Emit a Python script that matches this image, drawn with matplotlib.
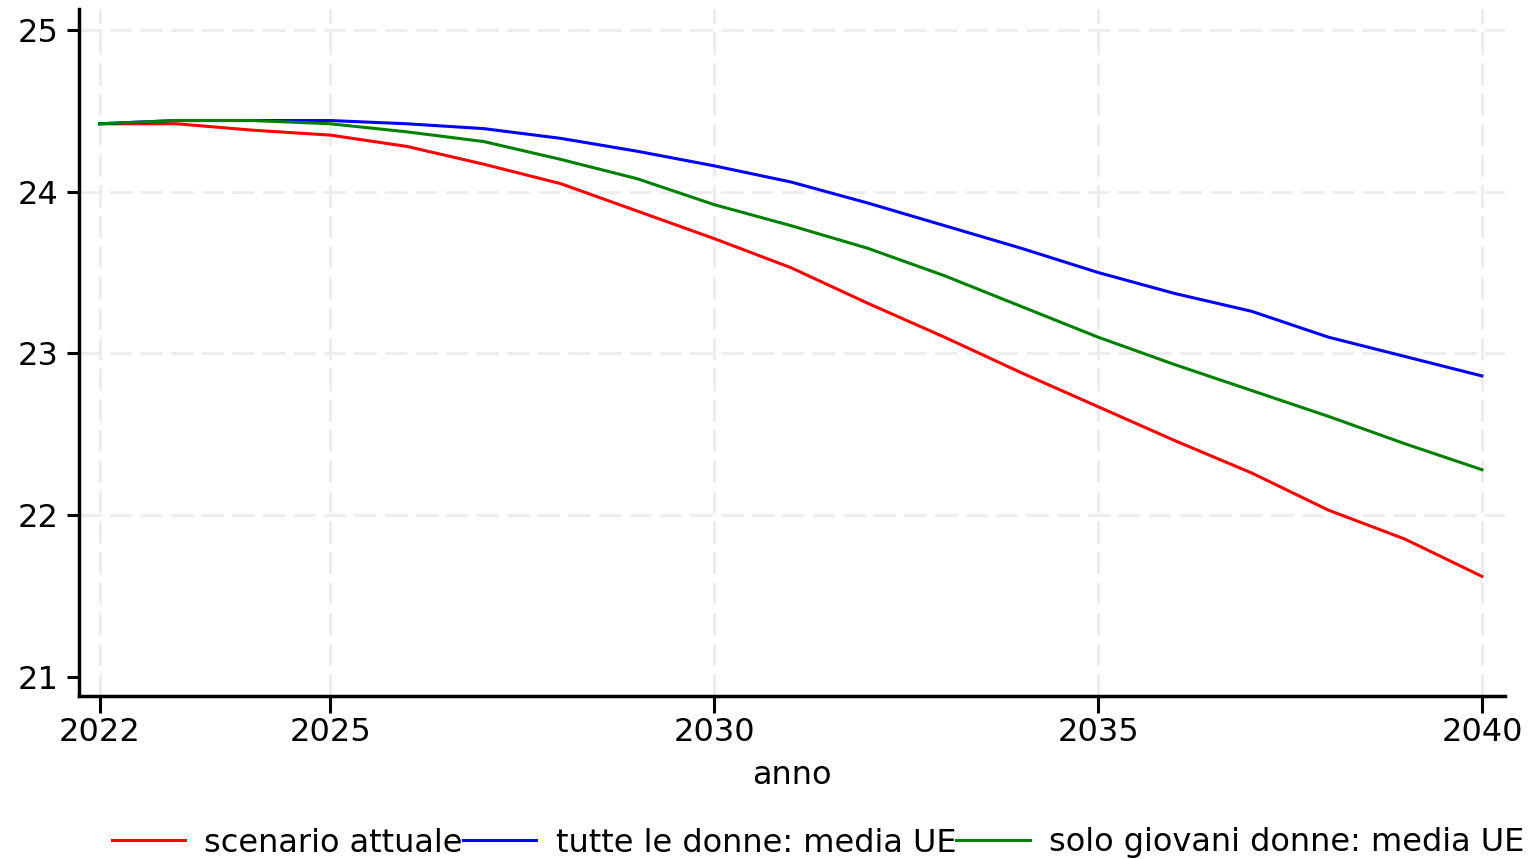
import matplotlib.pyplot as plt

# anni e valori
anni = [2022, 2023, 2024, 2025, 2026, 2027, 2028, 2029, 2030, 2031,
        2032, 2033, 2034, 2035, 2036, 2037, 2038, 2039, 2040]

scenario_attuale = [24.42, 24.42, 24.38, 24.35, 24.28, 24.17, 24.05, 23.88, 23.71, 23.53,
                    23.31, 23.10, 22.88, 22.67, 22.46, 22.26, 22.03, 21.85, 21.62]
tutte_donne = [24.42, 24.44, 24.44, 24.44, 24.42, 24.39, 24.33, 24.25, 24.16, 24.06,
               23.93, 23.79, 23.65, 23.50, 23.37, 23.26, 23.10, 22.98, 22.86]
giovani_donne = [24.42, 24.44, 24.44, 24.42, 24.37, 24.31, 24.20, 24.08, 23.92, 23.79,
                 23.65, 23.48, 23.29, 23.10, 22.93, 22.77, 22.61, 22.44, 22.28]

labels = ["scenario attuale", "tutte le donne: media UE", "solo giovani donne: media UE"]
colori = ["#ff0000", "#0000ff", "#008000"]

xticks = [2022, 2025, 2030, 2035, 2040]
yticks = [21, 22, 23, 24, 25]

plt.rcParams['font.family'] = ['DejaVu Sans']
FS = 23

fig = plt.figure(figsize=(15.37, 8.59), dpi=100)
ax = fig.add_axes([79/1537, 1 - 696/859, (1505-79)/1537, (696-9)/859])

for serie, lab, col in zip([scenario_attuale, tutte_donne, giovani_donne], labels, colori):
    ax.plot(anni, serie, color=col, lw=2.2, label=lab)

ax.set_xlim(2021.73, 2040.3)
ax.set_ylim(20.88, 25.13)
ax.set_xticks(xticks)
ax.set_yticks(yticks)
ax.grid(True, color="#ececec", lw=2, linestyle=(0, (8, 3)), zorder=0)
ax.set_axisbelow(True)
ax.yaxis.get_gridlines()[0].set_visible(False)

for s in ["top", "right"]:
    ax.spines[s].set_visible(False)
for s in ["left", "bottom"]:
    ax.spines[s].set_linewidth(2.5)

ax.tick_params(axis="y", length=9, width=2.2, pad=6, labelsize=FS)
ax.tick_params(axis="x", length=12, width=2.2, pad=3, labelsize=FS)
ax.set_xlabel("anno", fontsize=FS, labelpad=9)

fig.legend(loc="center", bbox_to_anchor=(818/1537, 1 - 843/859), ncol=3, frameon=False,
           fontsize=FS, handlelength=2.3, handletextpad=0.6, columnspacing=0.0,
           borderpad=0, borderaxespad=0)

plt.savefig("out.png", dpi=100)
plt.close()
